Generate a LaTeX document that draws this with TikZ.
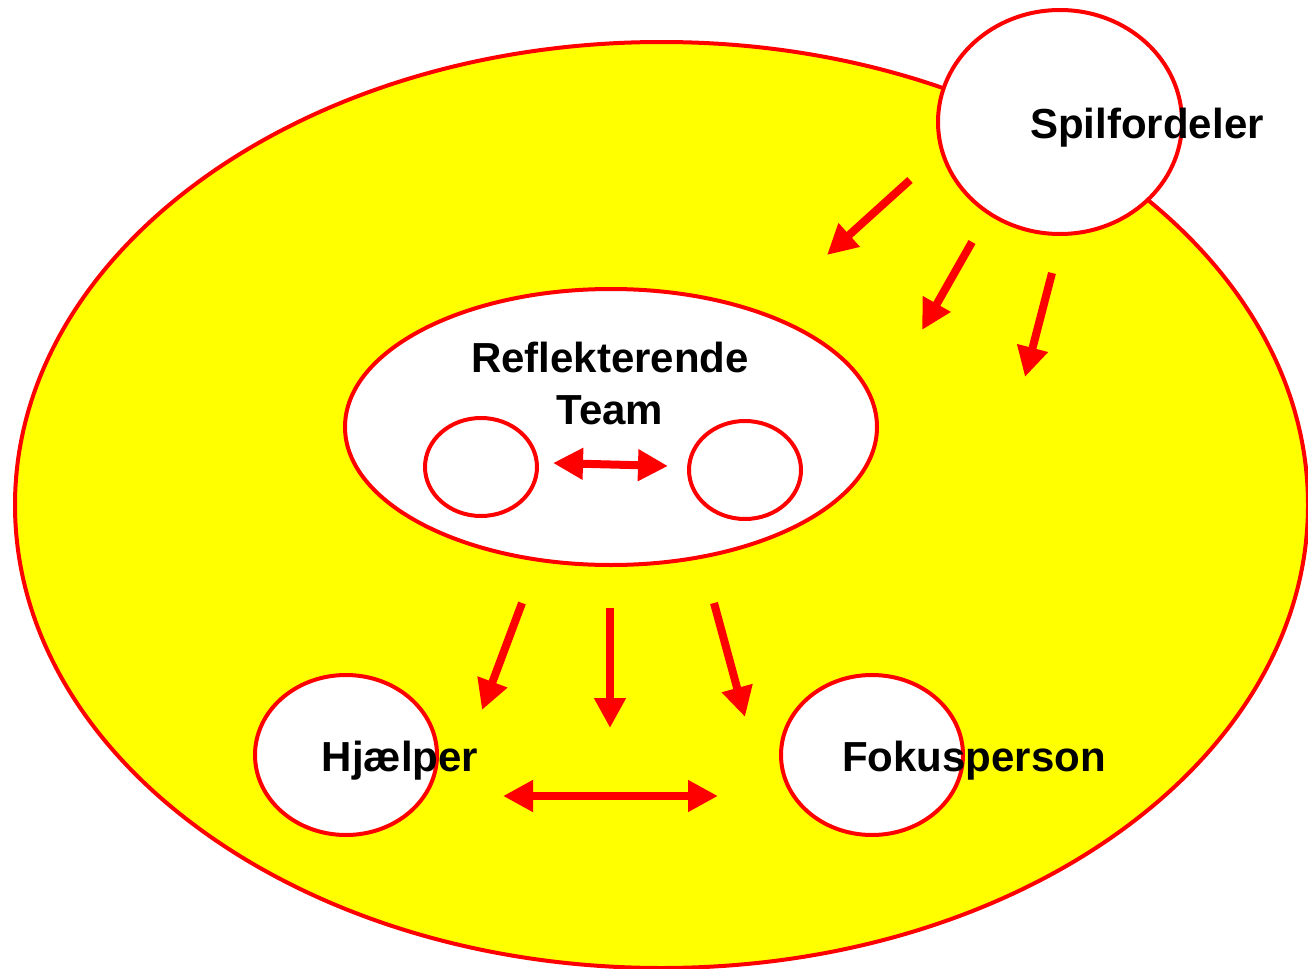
\documentclass[tikz,border=0pt]{standalone}
\usepackage{fontspec}
\setmainfont{Liberation Sans}
\usetikzlibrary{shapes.geometric,arrows.meta}
\definecolor{redline}{RGB}{255,0,0}
\definecolor{yel}{RGB}{255,255,0}
\tikzset{
  ring/.style={ellipse, draw=redline, line width=2pt, inner sep=0pt},
  lbl/.style={font=\fontsize{21}{26}\selectfont\bfseries, text=black, align=center, inner sep=0pt},
  arr/.style={draw=redline, line width=4pt, -{Triangle[length=15pt,width=15pt]}},
  darr/.style={draw=redline, line width=4pt, {Triangle[length=15pt,width=15pt]}-{Triangle[length=15pt,width=15pt]}}
}
\begin{document}
\begin{tikzpicture}[x=0.5pt,y=-0.5pt]
\useasboundingbox (0,0) rectangle (1308,969);
\node[ring, fill=yel, minimum width=646.5pt, minimum height=463pt] (world) at (661.5,505) {};
\node[ring, fill=white, minimum width=122pt, minimum height=112pt] (spil) at (1060,122) {};
\node[ring, fill=white, minimum width=266pt, minimum height=138pt] (team) at (611,427) {};
\node[ring, fill=white, minimum width=56pt, minimum height=49pt] (t1) at (481,467) {};
\node[ring, fill=white, minimum width=56pt, minimum height=49pt] (t2) at (745,470) {};
\node[ring, fill=white, minimum width=91pt, minimum height=80pt] (hj) at (346,755) {};
\node[ring, fill=white, minimum width=91pt, minimum height=80pt] (fo) at (872,755) {};
\node[lbl] (spiltxt) at (1147,128) {Spilfordeler};
\node[lbl] (teamtxt) at (610,383) {Reflekterende\\Team};
\node[lbl] (hjtxt) at (400,761) {Hjælper};
\node[lbl] (fotxt) at (974,761) {Fokusperson};
% arrow end points
\coordinate (a1s) at (910,180); \coordinate (a1e) at (827,255);
\coordinate (a2s) at (972,242); \coordinate (a2e) at (922,330);
\coordinate (a3s) at (1052,273); \coordinate (a3e) at (1025,377);
\coordinate (a4s) at (522,603); \coordinate (a4e) at (482,710);
\coordinate (a5s) at (610,608); \coordinate (a5e) at (610,728);
\coordinate (a6s) at (714,603); \coordinate (a6e) at (745,717);
\coordinate (d1s) at (553,463); \coordinate (d1e) at (668,466);
\coordinate (d2s) at (503,796); \coordinate (d2e) at (718,796);
\draw[arr] (a1s) -- (a1e);
\draw[arr] (a2s) -- (a2e);
\draw[arr] (a3s) -- (a3e);
\draw[arr] (a4s) -- (a4e);
\draw[arr] (a5s) -- (a5e);
\draw[arr] (a6s) -- (a6e);
\draw[darr] (d1s) -- (d1e);
\draw[darr] (d2s) -- (d2e);
\end{tikzpicture}
\end{document}
